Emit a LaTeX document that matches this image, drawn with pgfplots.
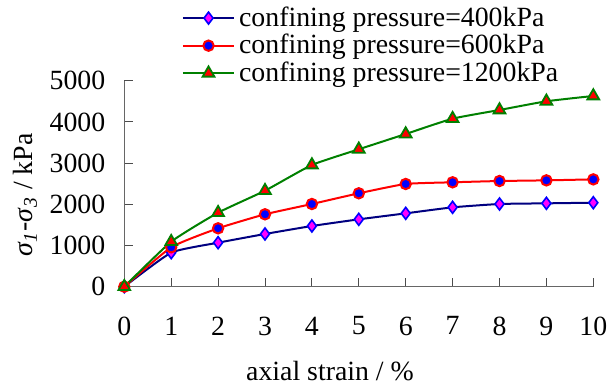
\documentclass[border=0pt]{standalone}
\usepackage{fontspec}
\setmainfont{Liberation Serif}
\usepackage{pgfplots}
\pgfplotsset{compat=1.18}
\definecolor{navyc}{HTML}{000080}
\definecolor{bluec}{HTML}{0000FF}
\definecolor{magc}{HTML}{FF00FF}
\definecolor{redc}{HTML}{FF0000}
\definecolor{greenc}{HTML}{008000}
\begin{document}
\begin{tikzpicture}
\begin{axis}[
  scale only axis,
  width=234.5pt, height=103pt,
  xmin=0, xmax=10, ymin=0, ymax=5000,
  axis lines=left,
  axis line style={-, draw=gray!80!black, line width=0.6pt},
  tick style={draw=gray!60!black, line width=0.5pt},
  tick align=inside,
  major tick length=4.5pt,
  xtick={0,1,...,10},
  ytick={0,1000,...,5000},
  scaled y ticks=false,
  /pgf/number format/1000 sep={},
  /pgf/number format/assume math mode=true,
  font=\fontsize{13.9}{16}\selectfont,
  tick label style={font=\fontsize{13.9}{16}\selectfont},
  xticklabel style={yshift=-11.5pt},
  yticklabel style={xshift=-6pt},
  clip=false,
  xlabel={axial strain / \%},
  xlabel style={at={(axis description cs:0.4386,0)}, anchor=center, yshift=-42pt},
  ylabel={\textit{σ}\textsubscript{\textit{1}}-\textit{σ}\textsubscript{\textit{3}} / kPa},
  ylabel style={at={(axis description cs:-0.2111,0.445)}, anchor=center},
  legend style={at={(axis description cs:0.122,1.38)}, anchor=north west, draw=none, fill=none,
    font=\fontsize{13.9}{16}\selectfont, row sep=-1.5pt, inner sep=0pt},
  legend cell align=left,
  legend image code/.code={\draw[mark repeat=2,mark phase=2] plot coordinates {(0cm,0cm) (0.45cm,0cm) (0.9cm,0cm)};},
]
\addplot[navyc, line width=1pt, smooth, tension=0.3, mark=diamond*, mark size=3pt,
  mark options={draw=bluec, fill=magc, line width=0.8pt, solid}]
  coordinates {(0,0) (1,826) (2,1068) (3,1279) (4,1473) (5,1635) (6,1780) (7,1926) (8,2007) (9,2023) (10,2039)};
\addlegendentry{confining pressure=400kPa}
\addplot[redc, line width=1pt, smooth, tension=0.3, mark=*, mark size=2.6pt,
  mark options={draw=redc, fill=bluec, line width=1pt, solid}]
  coordinates {(0,0) (1,956) (2,1417) (3,1757) (4,2007) (5,2267) (6,2493) (7,2534) (8,2565) (9,2581) (10,2605)};
\addlegendentry{confining pressure=600kPa}
\addplot[greenc, line width=1pt, smooth, tension=0.3, mark=triangle*, mark size=3.4pt,
  mark options={draw=greenc, fill=redc, line width=0.9pt, solid}]
  coordinates {(0,0) (1,1092) (2,1796) (3,2330) (4,2954) (5,3335) (6,3706) (7,4078) (8,4289) (9,4500) (10,4629)};
\addlegendentry{confining pressure=1200kPa}
\end{axis}
\pgfresetboundingbox
\path[use as bounding box] ([shift={(-62.15pt,-50.15pt)}]current axis.south west) rectangle ([shift={(7.85pt,40.35pt)}]current axis.north east);
\end{tikzpicture}
\end{document}
